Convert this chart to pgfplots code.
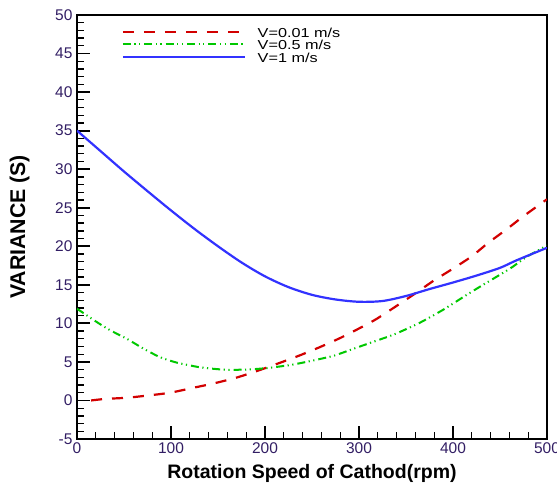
\documentclass[border=0pt]{standalone}
\usepackage{pgfplots}
\pgfplotsset{compat=1.18}
\usepackage{fontspec}
\setmainfont{Liberation Sans}
\newfontfamily\legfont[FakeStretch=1.25]{Liberation Sans}
\definecolor{tickc}{RGB}{50,30,100}
\definecolor{cred}{RGB}{210,0,0}
\definecolor{cgreen}{RGB}{0,200,0}
\definecolor{cblue}{RGB}{50,50,255}
\begin{document}
\begin{tikzpicture}[x=1pt,y=1pt]
\useasboundingbox (0,0) rectangle (557,488);
\begin{axis}[
  at={(77pt,49pt)}, anchor=south west,
  width=470pt, height=424pt, scale only axis,
  xmin=0, xmax=500, ymin=-5, ymax=50,
  xtick={0,100,...,500}, ytick={-5,0,...,50},
  minor x tick num=4, minor y tick num=4,
  xtick pos=left, ytick pos=left,
  tick align=inside,
  major tick length=13pt, minor tick length=7pt,
  major tick style={line width=1.8pt, black},
  minor tick style={line width=1.3pt, black},
  axis line style={line width=2.2pt, black},
  /pgf/number format/assume math mode=true,
  ticklabel style={font=\fontsize{15.5}{17}\selectfont, text=tickc},
  xticklabel style={yshift=-0.5pt},
  yticklabel style={xshift=-1pt},
  xlabel={\textbf{Rotation Speed of Cathod(rpm)}},
  ylabel={\textbf{VARIANCE (S)}},
  label style={font=\fontsize{19.5}{22}\selectfont},
  xlabel style={at={(axis description cs:0.5,0)}, anchor=north, yshift=-22pt},
  ylabel style={at={(axis description cs:0,0.5)}, anchor=south, yshift=44pt, font=\fontsize{21.3}{23}\selectfont},
  legend style={draw=none, fill=none, at={(axis description cs:0.0885,0.971)}, anchor=north west,
    font=\legfont\fontsize{13}{14}\selectfont, row sep=2pt, column sep=11.7pt,
    nodes={inner sep=0pt, text height=8pt, text depth=2.5pt}},
  legend cell align=left,
  legend image code/.code={\draw[#1] (0pt,3pt) -- (122pt,3pt);},
]
\addplot[cred, line width=2.2pt, smooth, tension=0.4, dash pattern=on 11pt off 10pt] coordinates {
(15,0.0) (30,0.2) (53,0.35) (76,0.65) (99,1.0) (122,1.6) (145,2.2) (168,2.9)
(191,3.8) (214,4.8) (236,5.8) (258,6.9) (280,8.1) (301,9.4) (319,10.6)
(354,13.4) (379,15.5) (400,17.1) (420,18.7) (437,20.4) (457,22.2) (475,23.9) (500,26.1)
};
\addlegendentry{V=0.01 m/s}
\addplot[cgreen, line width=2pt, smooth, tension=0.4, dash pattern=on 8pt off 3.5pt on 1.2pt off 3.5pt on 1.2pt off 4pt] coordinates {
(0,11.9) (21.3,10.15) (35.4,9.1) (53,8.0) (71,6.7) (88.6,5.6) (106.4,4.9) (131,4.3)
(156,4.0) (179,4.0) (202,4.2) (227,4.6) (248,5.1) (273,5.8) (294,6.7) (315,7.6)
(338,8.6) (365,10.1) (390,11.8) (414.6,13.7) (432,15.0) (460.6,17.1) (478,18.6) (500,20.1)
};
\addlegendentry{V=0.5 m/s}
\addplot[cblue, line width=2.2pt, smooth, tension=0.5] coordinates {
(0,35.0) (25,32.35) (50,29.7) (75,27.15) (100,24.65) (125,22.25) (150,20.0)
(175,17.9) (200,16.1) (225,14.7) (250,13.7) (275,13.1) (300,12.8) (325,12.9)
(350,13.55) (375,14.45) (400,15.3) (425,16.2) (450,17.2) (468,18.2) (500,19.8)
};
\addlegendentry{V=1 m/s}
\end{axis}
\end{tikzpicture}
\end{document}
